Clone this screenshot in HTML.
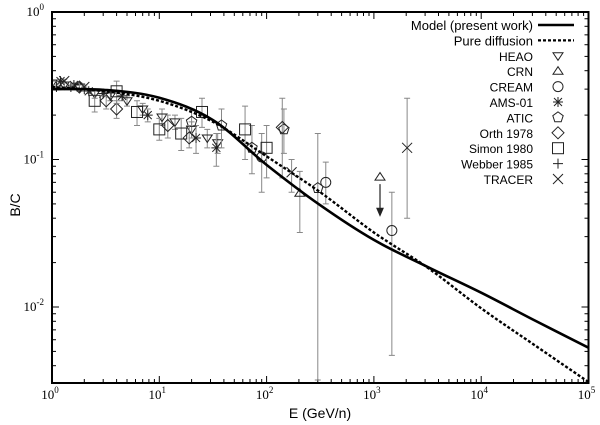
<!DOCTYPE html>
<html><head><meta charset="utf-8"><style>
html,body{margin:0;padding:0;background:#fff;}
svg{display:block;}
</style></head><body>
<svg id="chart" width="600" height="425" viewBox="0 0 600 425" xmlns="http://www.w3.org/2000/svg"></svg>
<script>
// ---- data ----
const curveLogE = [0, 0.5, 1, 1.5, 2, 2.5, 3, 3.5, 4, 4.5, 5];
const modelValues = [0.30, 0.296, 0.262, 0.185, 0.092, 0.049, 0.0285, 0.0187, 0.0125, 0.0081, 0.0053];
const diffusionValues = [0.31, 0.29, 0.25, 0.18, 0.105, 0.06, 0.032, 0.0185, 0.0098, 0.0055, 0.0031];

const heaoE = [1, 1.3, 1.8, 2.5, 3.5, 5, 7, 10.6, 14, 20, 28, 35];
const heaoV = [0.33, 0.32, 0.31, 0.28, 0.27, 0.25, 0.22, 0.194, 0.18, 0.16, 0.14, 0.13];
const heaoLo = [0.32, 0.31, 0.30, 0.26, 0.25, 0.23, 0.2, 0.17, 0.16, 0.14, 0.12, 0.11];
const heaoHi = [0.34, 0.33, 0.32, 0.30, 0.29, 0.27, 0.24, 0.22, 0.2, 0.18, 0.16, 0.15];

const crnE = [204, 1140];
const crnV = [0.059, 0.076];
const crnLo = [0.032, 0.076];
const crnHi = [0.083, 0.076];

const creamE = [90, 356, 1470];
const creamV = [0.104, 0.070, 0.033];
const creamLo = [0.06, 0.05, 0.0047];
const creamHi = [0.15, 0.096, 0.06];

const amsE = [1.2, 1.6, 2.2, 3, 4.5, 7.8, 22, 34];
const amsV = [0.34, 0.32, 0.29, 0.28, 0.27, 0.2, 0.14, 0.12];
const amsLo = [0.33, 0.31, 0.28, 0.27, 0.25, 0.18, 0.11, 0.09];
const amsHi = [0.35, 0.33, 0.30, 0.29, 0.29, 0.22, 0.17, 0.15];

const aticE = [20, 38, 73, 145, 300];
const aticV = [0.18, 0.17, 0.12, 0.16, 0.064];
const aticLo = [0.14, 0.12, 0.08, 0.11, 0.0032];
const aticHi = [0.22, 0.22, 0.17, 0.22, 0.15];

const orthE = [1.8, 3.2, 4, 12, 19, 140];
const orthV = [0.31, 0.25, 0.22, 0.17, 0.14, 0.165];
const orthLo = [0.29, 0.22, 0.19, 0.14, 0.12, 0.075];
const orthHi = [0.33, 0.28, 0.25, 0.2, 0.17, 0.26];

const simonE = [2.5, 4, 6.2, 10, 16, 25, 63, 100];
const simonV = [0.25, 0.29, 0.21, 0.16, 0.15, 0.21, 0.16, 0.12];
const simonLo = [0.21, 0.24, 0.17, 0.135, 0.115, 0.165, 0.1, 0.075];
const simonHi = [0.29, 0.34, 0.25, 0.19, 0.19, 0.26, 0.23, 0.17];

const webberE = [1.1, 1.5, 2, 3];
const webberV = [0.31, 0.31, 0.30, 0.28];
const webberLo = [0.3, 0.3, 0.29, 0.27];
const webberHi = [0.32, 0.32, 0.31, 0.29];

const tracerE = [1.3, 2, 171, 2040];
const tracerV = [0.34, 0.31, 0.082, 0.12];
const tracerLo = [0.33, 0.3, 0.06, 0.04];
const tracerHi = [0.35, 0.32, 0.1, 0.26];

const xTickLabels = ["0", "1", "2", "3", "4", "5"];
const yTickExps = [0, -1, -2];
const legendLabels = ["Model (present work)", "Pure diffusion", "HEAO", "CRN", "CREAM", "AMS-01", "ATIC", "Orth 1978", "Simon 1980", "Webber 1985", "TRACER"];

// ---- layout ----
const L = 52, R = 588.5, T = 12, B = 383;
const xMinLog = 0, xMaxLog = 5;
const yMaxLog = 0, yMinLog = -(B - T) / 147.5;
function xLog(le){ return L + (le - xMinLog) / (xMaxLog - xMinLog) * (R - L); }
function xScale(e){ return xLog(Math.log10(e)); }
function yLog(lv){ return T + (yMaxLog - lv) / (yMaxLog - yMinLog) * (B - T); }
function yScale(v){ return yLog(Math.log10(v)); }

const svg = document.getElementById('chart');
const NS = 'http://www.w3.org/2000/svg';
function mk(tag, attrs, parent){
  const el = document.createElementNS(NS, tag);
  for (const k in attrs) el.setAttribute(k, attrs[k]);
  (parent || svg).appendChild(el);
  return el;
}

const defs = mk('defs', {});
const cp = mk('clipPath', {id: 'plotclip'}, defs);
mk('rect', {x: L, y: T, width: R - L, height: B - T}, cp);

const ticks = mk('g', {stroke: '#000', 'stroke-width': 1});


for (let d = 0; d < 5; d++) {
  for (let m = 1; m <= 9; m++) {
    const x = xLog(d + Math.log10(m));
    const len = m === 1 ? 7 : 4;
    mk('line', {x1: x, y1: B, x2: x, y2: B - len}, ticks);
    mk('line', {x1: x, y1: T, x2: x, y2: T + len}, ticks);
  }
}
for (let d = -3; d < 0; d++) {
  for (let m = 1; m <= 9; m++) {
    const lv = d + Math.log10(m);
    if (lv < yMinLog) continue;
    const y = yLog(lv);
    const len = m === 1 ? 7 : 4;
    mk('line', {x1: L, y1: y, x2: L + len, y2: y}, ticks);
    mk('line', {x1: R, y1: y, x2: R - len, y2: y}, ticks);
  }
}

xTickLabels.forEach((exp, i) => {
  const t = mk('text', {x: xLog(i) - 2, y: 399, 'text-anchor': 'middle', 'font-family': 'Liberation Serif, serif', 'font-size': 13});
  
  
  t.appendChild(document.createTextNode('10'));
  const s = mk('tspan', {dy: -6, 'font-size': 9}, t);
  s.textContent = exp;
});
yTickExps.forEach(exp => {
  const t = mk('text', {x: 44, y: yLog(exp) + 4, 'text-anchor': 'end', 'font-family': 'Liberation Serif, serif', 'font-size': 13});
  
  
  t.appendChild(document.createTextNode('10'));
  const s = mk('tspan', {dy: -6, 'font-size': 9}, t);
  s.textContent = String(exp);
});

const xt = mk('text', {x: 320, y: 418, 'text-anchor': 'middle', 'font-family': 'Liberation Sans, sans-serif', 'font-size': 14});


xt.textContent = 'E (GeV/n)';
const yt = mk('text', {x: 0, y: 0, 'text-anchor': 'middle', 'font-family': 'Liberation Sans, sans-serif', 'font-size': 14, transform: 'translate(20,205) rotate(-90)'});


yt.textContent = 'B/C';

function marker(kind, x, y, parent){
  const a = {fill: 'none', stroke: '#222', 'stroke-width': 1};
  const r = 5;
  if (kind === 'down') return mk('polygon', Object.assign({points: `${x-r},${y-r*0.6} ${x+r},${y-r*0.6} ${x},${y+r*0.9}`}, a), parent);
  if (kind === 'up') return mk('polygon', Object.assign({points: `${x-r},${y+r*0.6} ${x+r},${y+r*0.6} ${x},${y-r*0.9}`}, a), parent);
  if (kind === 'circle') return mk('circle', Object.assign({cx: x, cy: y, r: 5}, a), parent);
  if (kind === 'star') return mk('path', Object.assign({d: `M${x-r},${y}H${x+r}M${x},${y-r}V${y+r}M${x-4},${y-4}L${x+4},${y+4}M${x-4},${y+4}L${x+4},${y-4}`}, a), parent);
  if (kind === 'pent') { let p = []; for (let i = 0; i < 5; i++){ const ang = -Math.PI/2 + i*2*Math.PI/5; p.push((x+5.5*Math.cos(ang)).toFixed(1)+','+(y+5.5*Math.sin(ang)).toFixed(1)); } return mk('polygon', Object.assign({points: p.join(' ')}, a), parent); }
  if (kind === 'diamond') return mk('polygon', Object.assign({points: `${x},${y-6} ${x+6},${y} ${x},${y+6} ${x-6},${y}`}, a), parent);
  if (kind === 'square') return mk('rect', Object.assign({x: x-5.5, y: y-5.5, width: 11, height: 11}, a), parent);
  if (kind === 'plus') return mk('path', Object.assign({d: `M${x-5},${y}H${x+5}M${x},${y-5}V${y+5}`}, a), parent);
  if (kind === 'cross') return mk('path', Object.assign({d: `M${x-5},${y-5}L${x+5},${y+5}M${x-5},${y+5}L${x+5},${y-5}`}, a), parent);
}

const series = [
  ['heao', 'down', heaoE, heaoV, heaoLo, heaoHi],
  ['crn', 'up', crnE, crnV, crnLo, crnHi],
  ['cream', 'circle', creamE, creamV, creamLo, creamHi],
  ['ams01', 'star', amsE, amsV, amsLo, amsHi],
  ['atic', 'pent', aticE, aticV, aticLo, aticHi],
  ['orth1978', 'diamond', orthE, orthV, orthLo, orthHi],
  ['simon1980', 'square', simonE, simonV, simonLo, simonHi],
  ['webber1985', 'plus', webberE, webberV, webberLo, webberHi],
  ['tracer', 'cross', tracerE, tracerV, tracerLo, tracerHi]
];

const plot = mk('g', {'clip-path': 'url(#plotclip)'});



series.forEach(([name, kind, E, V, lo, hi]) => {
  const g = mk('g', {}, plot);
  
  
  E.forEach((e, i) => {
    const x = xScale(e), y = yScale(V[i]);
    const y1 = yScale(Math.max(lo[i], 1e-4)), y2 = yScale(hi[i]);
    if (Math.abs(y1 - y2) > 1) {
      const eb = mk('path', {d: `M${x},${y1}V${y2}M${x-3},${y1}H${x+3}M${x-3},${y2}H${x+3}`, stroke: '#888', 'stroke-width': 1, fill: 'none'}, g);
      
      
    }
    const m = marker(kind, x, y, g);
    
    
  });
});

(function(){
  const x = xScale(crnE[1]), y0 = yScale(crnV[1]) + 7, y1 = yScale(crnV[1] * 0.55);
  const ar = mk('path', {d: `M${x},${y0}V${y1}M${x-3},${y1-7}L${x},${y1}L${x+3},${y1-7}Z`, stroke: '#222', 'stroke-width': 1.2, fill: '#222'}, plot);
  
  
})();

function curvePath(vals){
  const pts = curveLogE.map((le, i) => [xLog(le), yScale(vals[i])]);
  let d = `M${pts[0][0]},${pts[0][1]}`;
  for (let i = 0; i < pts.length - 1; i++) {
    const p0 = pts[Math.max(0, i-1)], p1 = pts[i], p2 = pts[i+1], p3 = pts[Math.min(pts.length-1, i+2)];
    const c1 = [p1[0] + (p2[0]-p0[0])/6, p1[1] + (p2[1]-p0[1])/6];
    const c2 = [p2[0] - (p3[0]-p1[0])/6, p2[1] - (p3[1]-p1[1])/6];
    d += `C${c1[0]},${c1[1]} ${c2[0]},${c2[1]} ${p2[0]},${p2[1]}`;
  }
  return d;
}
const model = mk('path', {d: curvePath(modelValues), stroke: '#000', 'stroke-width': 2.6, fill: 'none'}, plot);


const diff = mk('path', {d: curvePath(diffusionValues), stroke: '#000', 'stroke-width': 2.4, 'stroke-dasharray': '3,2', fill: 'none'}, plot);



const frame = mk('rect', {x: L, y: T, width: R - L, height: B - T, fill: 'none', stroke: '#000', 'stroke-width': 2});



const leg = mk('g', {});


const legKinds = ['line', 'dash', 'down', 'up', 'circle', 'star', 'pent', 'diamond', 'square', 'plus', 'cross'];
legendLabels.forEach((lab, i) => {
  const y = 25 + i * 15.4;
  const t = mk('text', {x: 533, y: y + 5, 'text-anchor': 'end', 'font-family': 'Liberation Sans, sans-serif', 'font-size': i < 2 ? 13 : 12}, leg);
  
  
  t.textContent = lab;
  const k = legKinds[i];
  if (k === 'line') mk('line', {x1: 538, y1: y, x2: 574, y2: y, stroke: '#000', 'stroke-width': 2.4}, leg);
  else if (k === 'dash') mk('line', {x1: 538, y1: y, x2: 574, y2: y, stroke: '#000', 'stroke-width': 2.2, 'stroke-dasharray': '3,2'}, leg);
  else marker(k, 558, y, leg);
});
</script>
</body></html>
